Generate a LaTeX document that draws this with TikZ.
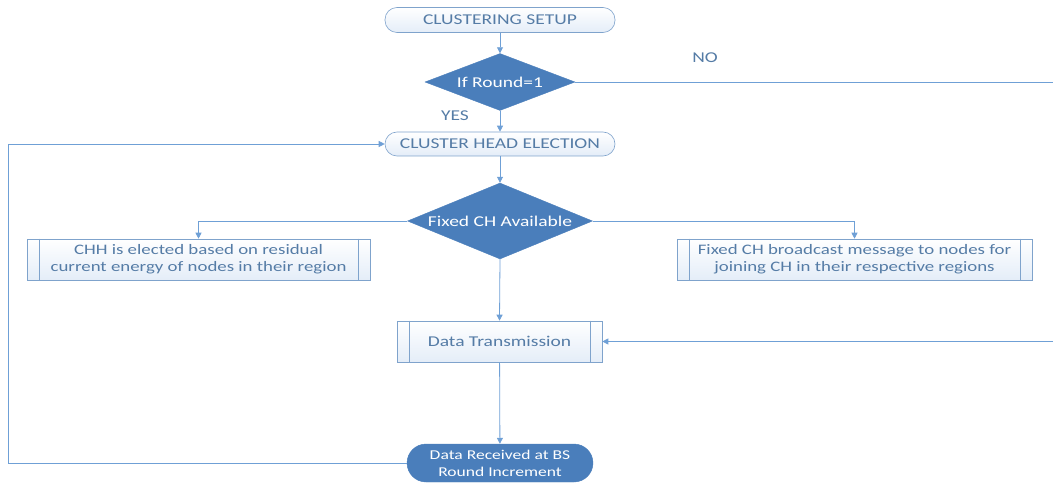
\documentclass[tikz,border=0pt]{standalone}
\usepackage{fontspec}
\setmainfont{Carlito}[FakeStretch=1.3]
\usetikzlibrary{arrows.meta,shapes.geometric,calc}
\definecolor{lineblue}{HTML}{6FA0D6}
\definecolor{fillblue}{HTML}{4A7EBB}
\definecolor{txtblue}{HTML}{557CA6}
\definecolor{paleblue}{HTML}{E4EDF8}
\definecolor{edgeblue}{HTML}{7FA3CC}
\begin{document}
\begin{tikzpicture}[x=1pt,y=-1pt,
  conn/.style={draw=lineblue, line width=0.8pt},
  arr/.style={conn, -{Triangle[length=6pt,width=6pt]}},
  term/.style={draw=edgeblue, line width=0.6pt, rounded corners=12pt, top color=white, bottom color=paleblue,
    minimum width=230pt, minimum height=25pt, text=txtblue, font=\fontsize{15}{17}\selectfont, inner sep=0pt},
  dec/.style={diamond, fill=fillblue, draw=fillblue, text=white, font=\fontsize{15}{17}\selectfont, aspect=2.6, inner sep=0pt},
  proc/.style={draw=edgeblue, line width=0.6pt, top color=white, bottom color=paleblue, text=txtblue,
    font=\fontsize{14.5}{17}\selectfont, align=center, inner sep=0pt, minimum height=41pt},
  endterm/.style={fill=fillblue, draw=fillblue, rounded corners=19pt, text=white, align=center,
    font=\fontsize{13.5}{17}\selectfont, minimum width=186pt, minimum height=38pt, inner sep=0pt},
  lbl/.style={text=txtblue, font=\fontsize{15}{17}\selectfont}
]
\useasboundingbox (0,0) rectangle (1055,484);

\node[term] (setup) at (500,20) {CLUSTERING SETUP};
\node[dec, minimum width=150pt, minimum height=57pt] (round) at (500,82) {If Round=1};
\node[term, minimum height=24pt] (che) at (500,144) {CLUSTER HEAD ELECTION};
\node[dec, minimum width=185pt, minimum height=76pt] (fixed) at (500,221) {Fixed CH Available};
\node[proc, minimum width=343pt] (left) at (198.5,259.5) {CHH is elected based on residual\\current energy of nodes in their region};
\node[proc, minimum width=355pt] (right) at (854.5,259.5) {Fixed CH broadcast message to nodes for\\joining CH in their respective regions};
\node[proc, minimum width=205pt, font=\fontsize{15}{17}\selectfont] (dt) at (499.5,341.5) {Data Transmission};
\node[endterm] (recv) at (500,463) {Data Received at BS\\Round Increment};

\foreach \n in {left,right,dt}{
  \draw[edgeblue, line width=0.6pt] ([xshift=12.5pt]\n.north west) -- ([xshift=12.5pt]\n.south west);
  \draw[edgeblue, line width=0.6pt] ([xshift=-12.5pt]\n.north east) -- ([xshift=-12.5pt]\n.south east);
}

\coordinate (noend) at (1053,82);
\coordinate (dtin) at (1053,341.5);
\coordinate (loopb) at (8,463);
\coordinate (loopt) at (8,144);

\draw[arr] (setup) -- (round);
\draw[arr] (round) -- (che);
\draw[arr] (che) -- (fixed);
\draw[conn] (round.east) -- (noend);
\draw[arr] (fixed.west) -| (left.north);
\draw[arr] (fixed.east) -| (right.north);
\draw[arr] (fixed.south) -- (dt.north);
\draw[arr] (dt) -- (recv);
\draw[arr] (dtin) -- (dt.east);
\draw[arr] (recv.west) -- (loopb) -- (loopt) -- (che.west);

\node[lbl] (yes) at (455,116) {YES};
\node[lbl] (no) at (705,58) {NO};
\end{tikzpicture}
\end{document}
